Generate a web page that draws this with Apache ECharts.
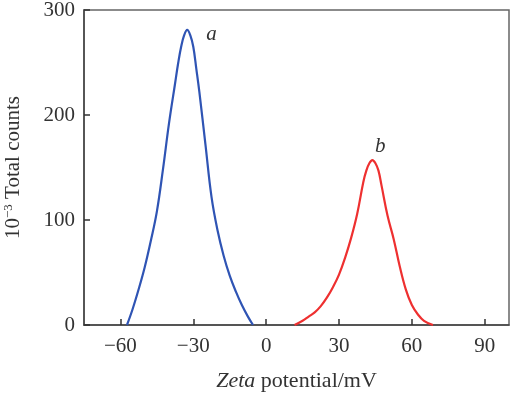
<!DOCTYPE html>
<html><head><meta charset="utf-8">
<script src="https://cdn.jsdelivr.net/npm/echarts@6/dist/echarts.min.js"></script>
<style>html,body{margin:0;padding:0;background:#fff}#c{width:520px;height:394px}</style>
</head><body><div id="c"></div>
<script>
// Curve a
const xA = [-57.3,-55,-52.5,-50,-47.5,-45,-42.5,-40,-37.5,-36.25,-35,-33.75,-32.5,-31.25,-30,-28.75,-27.5,-25,-22.5,-20,-17.5,-15,-12.5,-10,-7.5,-5.4];
const yA = [0,15,34,55,80,108,148,192,230,249,265,276,281,276,265,244,222,172,122,90,66,47,32,19,8,0];
// Curve b
const xB = [11.7,15,17.5,20,22.5,25,27.5,30,32.5,35,37.5,40,41.25,42.5,43.75,45,46.25,47.5,50,52.5,55,57.5,60,62.5,65,68.7];
const yB = [0,4,8,12,18,26,36,48,64,83,106,136,147,154,157,154,147,133,104,82,56,34,19,10,4,0];
const xTicks = [-60,-30,0,30,60,90];
const yTicks = [0,100,200,300];
const labelA = {x:-22.5, y:277, text:'a'};
const labelB = {x:47, y:170, text:'b'};

const FONT = 'Liberation Serif';
const chart = echarts.init(document.getElementById('c'));
const pairs = (xs, ys) => xs.map((x,i)=>[x, ys[i]]);
const fmt = v => v < 0 ? '\u2212' + Math.abs(v) : String(v);
chart.setOption({
  animation:false,
  grid:{left:84,right:11,top:10,bottom:69,show:true,borderColor:'#666',borderWidth:1.5,outerBoundsMode:'none',containLabel:false},
  xAxis:{type:'value',min:-75,max:100,
    name:'{it|Zeta} potential/mV',nameLocation:'middle',nameGap:45,
    nameTextStyle:{fontFamily:FONT,fontSize:22,color:'#333',rich:{it:{fontFamily:FONT,fontSize:22,fontStyle:'italic',color:'#333'}}},
    axisLine:{onZero:false,lineStyle:{color:'#444',width:1.5}},
    axisTick:{inside:true,length:6,customValues:xTicks,lineStyle:{color:'#333',width:1.5}},
    axisLabel:{customValues:xTicks,formatter:fmt,fontFamily:FONT,fontSize:21,color:'#333',margin:11},
    splitLine:{show:false}},
  yAxis:{type:'value',min:0,max:300,interval:100,
    name:'10{sup|\u22123} Total counts',nameLocation:'middle',nameGap:60,
    nameTextStyle:{fontFamily:FONT,fontSize:21,color:'#333',rich:{sup:{fontFamily:FONT,fontSize:13,color:'#333',verticalAlign:'bottom',padding:[0,0,9,0]}}},
    axisLine:{show:true,onZero:false,lineStyle:{color:'#444',width:1.5}},
    axisTick:{show:true,inside:true,length:6,lineStyle:{color:'#333',width:1.5}},
    axisLabel:{fontFamily:FONT,fontSize:21,color:'#333',margin:9},
    splitLine:{show:false}},
  series:[
    {type:'line',data:pairs(xA,yA),smooth:0.4,symbol:'none',lineStyle:{color:'#2f54b4',width:2.2},
     markPoint:{symbol:'circle',symbolSize:0,data:[{coord:[labelA.x,labelA.y],label:{show:true,formatter:labelA.text,fontFamily:FONT,fontSize:21,fontStyle:'italic',color:'#333'}}]}},
    {type:'line',data:pairs(xB,yB),smooth:0.4,symbol:'none',lineStyle:{color:'#ee3030',width:2.2},
     markPoint:{symbol:'circle',symbolSize:0,data:[{coord:[labelB.x,labelB.y],label:{show:true,formatter:labelB.text,fontFamily:FONT,fontSize:21,fontStyle:'italic',color:'#333'}}]}}
  ]
});
</script></body></html>
